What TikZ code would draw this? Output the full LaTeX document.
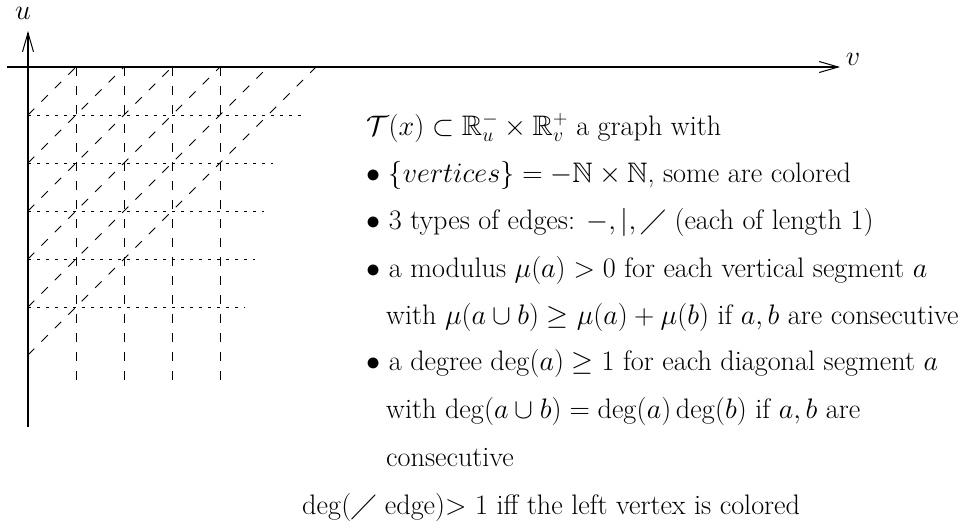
\RequirePackage{fix-cm}
\documentclass[tikz,border=0pt]{standalone}
\usepackage{amssymb}
\usetikzlibrary{arrows.meta}
\begin{document}
\begin{tikzpicture}[x=1pt,y=-1pt,
  txt/.style={anchor=base west, inner sep=0pt, font=\fontsize{28.2}{32}\selectfont},
  lbl/.style={inner sep=0pt, font=\fontsize{28.2}{32}\selectfont},
  axis/.style={line width=1.5pt, -{Straight Barb[length=19pt,width=11pt,line width=1pt]}},
  vdash/.style={line width=0.9pt, dash pattern=on 9pt off 10pt},
  ddash/.style={line width=0.9pt, dash pattern=on 9pt off 10pt},
  hdot/.style={line width=1pt, dash pattern=on 2.5pt off 6.5pt}]
\useasboundingbox (0,0) rectangle (966,531);
% axes
\coordinate (hstart) at (7,67);
\coordinate (vend) at (840,67);
\coordinate (ubot) at (28,427);
\coordinate (utop) at (28,31);
\draw[axis] (hstart) -- (vend);
\draw[axis] (ubot) -- (utop);
\node[lbl] (ulab) at (23,13) {$u$};
\node[lbl] (vlab) at (853,59) {$v$};
% vertical dashed lines
\foreach \i in {1,...,4} {
  \draw[vdash] (28+48*\i,67) -- (28+48*\i,384);
}
% diagonals
\foreach \k in {0,...,5} {
  \draw[ddash] (28,115+48*\k) -- (76+48*\k,67);
}
% horizontal dotted lines
\foreach \y/\xe in {115/302, 163/273, 211/264, 259/255, 307/245} {
  \draw[hdot] (28,\y) -- (\xe,\y);
}
% text
\node[txt] (t1) at (366,135) {$\mathcal{T}(x)\subset\mathbb{R}_u^-\times\mathbb{R}_v^+$ a graph with};
\node[txt] (t2) at (366,182) {$\bullet$ $\{vertices\}=-\mathbb{N}\times\mathbb{N}$, some are colored};
\node[txt] (t3) at (366,229) {$\bullet$ 3 types of edges: $-,|,\diagup$ (each of length 1)};
\node[txt] (t4) at (366,277) {$\bullet$ a modulus $\mu(a)>0$ for each vertical segment $a$};
\node[txt] (t5) at (386,324) {with $\mu(a\cup b)\geq\mu(a)+\mu(b)$ if $a,b$ are consecutive};
\node[txt] (t6) at (366,370) {$\bullet$ a degree $\deg(a)\geq 1$ for each diagonal segment $a$};
\node[txt] (t7) at (386,418) {with $\deg(a\cup b)=\deg(a)\deg(b)$ if $a,b$ are};
\node[txt] (t8) at (386,466) {consecutive};
\node[txt] (t9) at (302,514) {$\deg(\diagup$ edge$)$$>$ 1 iff the left vertex is colored};
\end{tikzpicture}
\end{document}
